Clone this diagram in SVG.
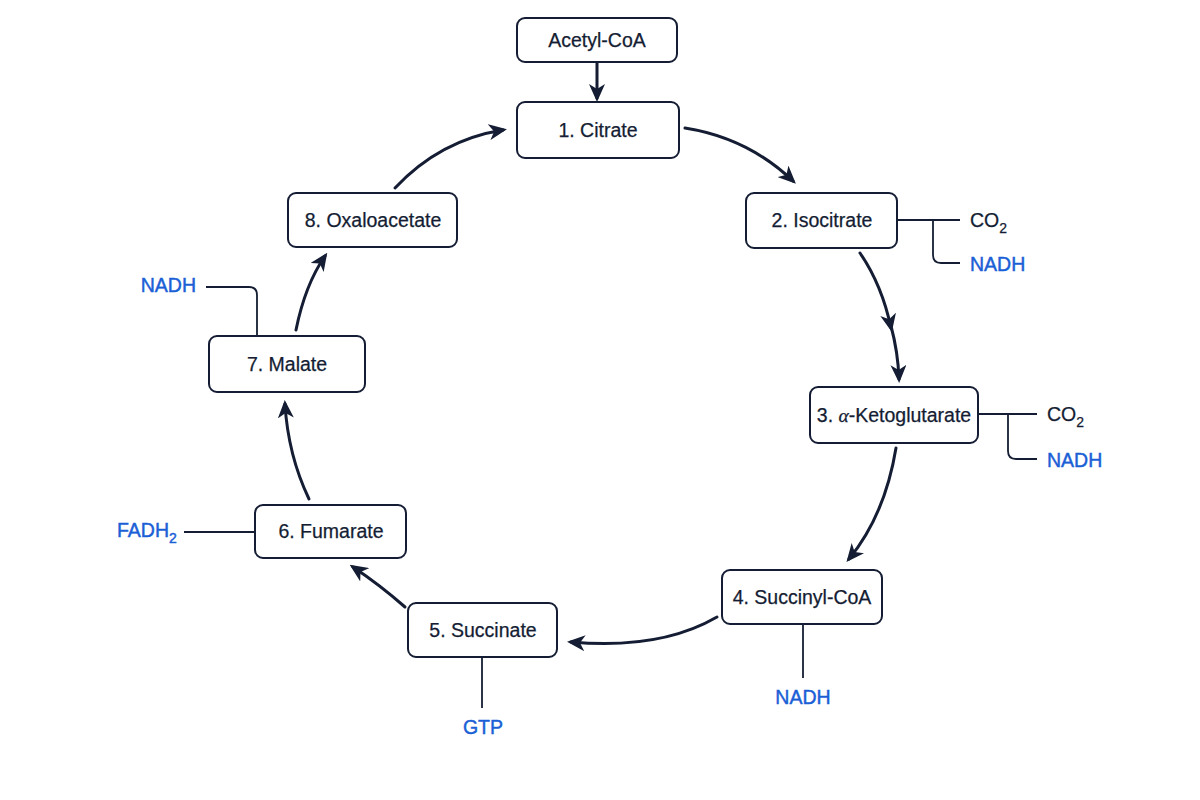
<svg xmlns="http://www.w3.org/2000/svg" width="1200" height="800" viewBox="0 0 1200 800">
  <style>
    .box { fill: #ffffff; stroke: #141d33; stroke-width: 2; }
    .t { font-family: "Liberation Sans", Arial, sans-serif; font-size: 19.5px; fill: #141d33; stroke: #141d33; stroke-width: 0.25; text-anchor: middle; }
    .lab { font-family: "Liberation Sans", Arial, sans-serif; font-size: 19.5px; fill: #1b5fd6; stroke: #1b5fd6; stroke-width: 0.45; }
    .dark { fill: #141d33; stroke: #141d33; stroke-width: 0.25; }
    .arc { fill: none; stroke: #141d33; stroke-width: 3; stroke-linecap: round; }
    .br { fill: none; stroke: #141d33; stroke-width: 1.8; }
  </style>
  <defs>
    <marker id="ah" markerUnits="userSpaceOnUse" markerWidth="18" markerHeight="16" viewBox="0 0 18 16" refX="14" refY="8" orient="auto">
      <path d="M0,0 L18,8 L0,16 L5,8 z" fill="#141d33"/>
    </marker>
  </defs>
  <rect width="1200" height="800" fill="#ffffff"/>

  <g id="connectors">
    <line class="arc" x1="597" y1="62" x2="597" y2="98" marker-end="url(#ah)"/>
    <path class="arc" d="M685,128 Q748,138 793,181" marker-end="url(#ah)"/>
    <path class="arc" d="M860,253 Q882,285 891,328" marker-end="url(#ah)"/>
    <path class="arc" d="M891,326 Q898,352 899,379" marker-end="url(#ah)"/>
    <path class="arc" d="M896,448 Q885,515 849,559" marker-end="url(#ah)"/>
    <path class="arc" d="M717,617 Q660,650 571,642" marker-end="url(#ah)"/>
    <path class="arc" d="M405,607 Q380,585 353,567" marker-end="url(#ah)"/>
    <path class="arc" d="M309,499 Q288,455 285,404" marker-end="url(#ah)"/>
    <path class="arc" d="M296,330 Q305,285 325,256" marker-end="url(#ah)"/>
    <path class="arc" d="M395,188 Q440,140 503,130" marker-end="url(#ah)"/>
    <path class="br" d="M897,220 H960 M933,220 V255 Q933,263 941,263 H960"/>
    <path class="br" d="M978,414 H1037 M1008,414 V451 Q1008,459 1016,459 H1037"/>
    <path class="br" d="M206,287 H249 Q257,287 257,295 V336"/>
    <line class="br" x1="184" y1="532" x2="255" y2="532"/>
    <line class="br" x1="482" y1="657" x2="482" y2="708"/>
    <line class="br" x1="803" y1="624" x2="803" y2="678"/>
  </g>

  <g id="acetyl-coa">
    <rect class="box" x="517" y="18" width="160" height="44" rx="8"/>
    <text class="t" x="597" y="47">Acetyl-CoA</text>
  </g>
  <g id="citrate">
    <rect class="box" x="517" y="102" width="162" height="56" rx="8"/>
    <text class="t" x="598" y="137">1. Citrate</text>
  </g>
  <g id="isocitrate">
    <rect class="box" x="746" y="193" width="151" height="55" rx="8"/>
    <text class="t" x="822" y="227">2. Isocitrate</text>
    <text class="lab dark" x="970" y="227">CO<tspan font-size="14" dy="6">2</tspan></text>
    <text class="lab" x="970" y="271">NADH</text>
  </g>
  <g id="alpha-ketoglutarate">
    <rect class="box" x="810" y="387" width="168" height="56" rx="8"/>
    <text class="t" x="894" y="422">3. <tspan font-family="'Liberation Serif', serif" font-style="italic">α</tspan>-Ketoglutarate</text>
    <text class="lab dark" x="1047" y="421">CO<tspan font-size="14" dy="6">2</tspan></text>
    <text class="lab" x="1047" y="467">NADH</text>
  </g>
  <g id="succinyl-coa">
    <rect class="box" x="722" y="570" width="160" height="54" rx="8"/>
    <text class="t" x="802" y="604">4. Succinyl-CoA</text>
    <text class="lab" x="803" y="704" text-anchor="middle">NADH</text>
  </g>
  <g id="succinate">
    <rect class="box" x="408" y="603" width="149" height="54" rx="8"/>
    <text class="t" x="483" y="637">5. Succinate</text>
    <text class="lab" x="483" y="734" text-anchor="middle">GTP</text>
  </g>
  <g id="fumarate">
    <rect class="box" x="255" y="505" width="151" height="53" rx="8"/>
    <text class="t" x="331" y="538">6. Fumarate</text>
    <text class="lab" x="117" y="537">FADH<tspan font-size="14" dy="6">2</tspan></text>
  </g>
  <g id="malate">
    <rect class="box" x="209" y="336" width="156" height="56" rx="8"/>
    <text class="t" x="287" y="371">7. Malate</text>
    <text class="lab" x="196" y="292" text-anchor="end">NADH</text>
  </g>
  <g id="oxaloacetate">
    <rect class="box" x="288" y="193" width="169" height="54" rx="8"/>
    <text class="t" x="373" y="227">8. Oxaloacetate</text>
  </g>
</svg>
